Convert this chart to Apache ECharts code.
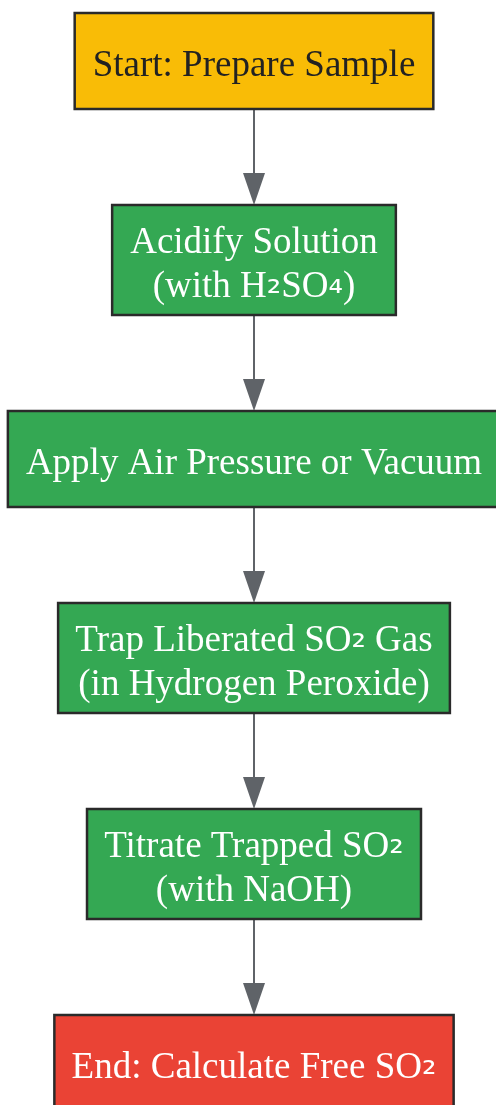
<!DOCTYPE html>
<html>
<head>
<meta charset="utf-8">
<script src="https://cdn.jsdelivr.net/npm/echarts@6/dist/echarts.min.js"></script>
<style>
html,body{margin:0;padding:0;background:#fff;}
#chart{width:496px;height:1105px;}
</style>
</head>
<body>
<div id="chart"></div>
<script>
// ---- data ----
var steps = [
  "Start: Prepare Sample",
  "Acidify Solution\n(with H\u2082SO\u2084)",
  "Apply Air Pressure or Vacuum",
  "Trap Liberated SO\u2082 Gas\n(in Hydrogen Peroxide)",
  "Titrate Trapped SO\u2082\n(with NaOH)",
  "End: Calculate Free SO\u2082"
];
var stepKinds = ["start", "process", "process", "process", "process", "end"];
var links = [[0,1],[1,2],[2,3],[3,4],[4,5]];

// ---- style ----
var FAMILY = "'Liberation Serif', 'Times New Roman', serif";
var FSIZE = 37;
var FONT = FSIZE + "px " + FAMILY;
var SUBFAMILY = "'DejaVu Sans', sans-serif";
var SUBSIZE = 36;
var fills = {start: "#F9BC06", process: "#34A853", end: "#EA4335"};
var textColors = {start: "#222222", process: "#ffffff", end: "#ffffff"};
var CX = 254, TOP = 13, GAP = 96, PADX = 18;

var ctx = document.createElement("canvas").getContext("2d");
ctx.font = FONT;
function textWidth(s){
  return Math.max.apply(null, s.split("\n").map(function(l){return ctx.measureText(l).width;}));
}
function toRich(s){
  return s.split("\n").map(function(line){
    var out = "", buf = "";
    for (var k = 0; k < line.length; k++) {
      var c = line[k];
      if (c === "\u2082" || c === "\u2084") {
        if (buf) { out += "{n|" + buf + "}"; buf = ""; }
        out += "{s|" + c + "}";
      } else buf += c;
    }
    if (buf) out += "{n|" + buf + "}";
    return out;
  }).join("\n");
}
// layout (pixel space of the hidden axes)
var layout = [];
var y = TOP;
steps.forEach(function(s, i){
  var lines = s.split("\n").length;
  var h = lines === 1 ? 96 : 110;
  var w = textWidth(s) + 2 * PADX;
  layout.push({x: CX - w / 2, y: y, w: w, h: h});
  y += h + GAP;
});

var chart = echarts.init(document.getElementById("chart"), null, {renderer: "canvas"});
chart.setOption({
  animation: false,
  backgroundColor: "#ffffff",
  grid: {left: 0, right: 0, top: 0, bottom: 0},
  xAxis: {type: "value", min: 0, max: 496, show: false},
  yAxis: {type: "value", min: 0, max: 1105, inverse: true, show: false},
  series: [
    {
      type: "custom",
      coordinateSystem: "cartesian2d",
      clip: false,
      data: links.map(function(l, i){ return [l[0], l[1]]; }),
      renderItem: function(params, api){
        var a = layout[api.value(0)], b = layout[api.value(1)];
        var p0 = api.coord([CX, a.y + a.h]);
        var p1 = api.coord([CX, b.y]);
        var headH = 32, headW = 22;
        return {
          type: "group",
          children: [
            {type: "line", shape: {x1: p0[0], y1: p0[1], x2: p1[0], y2: p1[1] - headH + 2},
             style: {stroke: "#5F6368", lineWidth: 2}},
            {type: "polygon", shape: {points: [[p1[0] - headW/2, p1[1] - headH], [p1[0] + headW/2, p1[1] - headH], [p1[0], p1[1]]]},
             style: {fill: "#5F6368"}}
          ]
        };
      }
    },
    {
      type: "custom",
      coordinateSystem: "cartesian2d",
      clip: false,
      data: steps.map(function(s, i){ return [i]; }),
      renderItem: function(params, api){
        var i = api.value(0), L = layout[i];
        var p = api.coord([L.x, L.y]);
        var q = api.coord([L.x + L.w, L.y + L.h]);
        var kind = stepKinds[i];
        var col = textColors[kind];
        return {
          type: "group",
          children: [
            {type: "rect", shape: {x: p[0], y: p[1], width: q[0] - p[0], height: q[1] - p[1]},
             style: {fill: fills[kind], stroke: "#2A2A2A", lineWidth: 2.5}},
            {type: "text", x: (p[0] + q[0]) / 2, y: (p[1] + q[1]) / 2 + 2,
             style: {text: toRich(steps[i]), align: "center", verticalAlign: "middle",
               fill: col, font: FONT, lineHeight: 44,
               rich: {
                 n: {fontSize: FSIZE, fontFamily: FAMILY, color: col, lineHeight: 44, verticalAlign: "bottom"},
                 s: {fontSize: SUBSIZE, fontFamily: SUBFAMILY, color: col, lineHeight: 44, verticalAlign: "bottom", padding: [0, 0, 4, 0]}
               }}}
          ]
        };
      }
    }
  ]
});
</script>
</body>
</html>
